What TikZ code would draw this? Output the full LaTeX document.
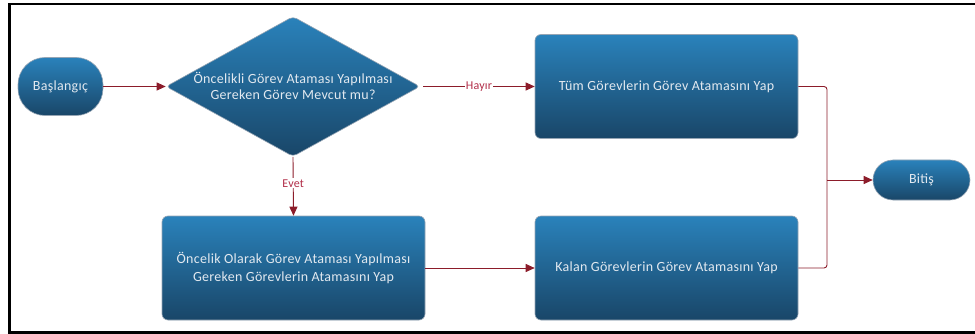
\documentclass[tikz,border=0pt]{standalone}
\usepackage{fontspec}
\setmainfont[LetterSpace=2]{Carlito}
\usetikzlibrary{arrows.meta,shapes.geometric}
\definecolor{boxtop}{RGB}{42,130,187}
\definecolor{boxbot}{RGB}{25,70,104}
\definecolor{txt}{RGB}{226,233,240}
\definecolor{arr}{RGB}{140,28,42}
\definecolor{lbl}{RGB}{178,45,72}
\definecolor{edge}{RGB}{150,165,180}
\begin{document}
\begin{tikzpicture}[x=1pt,y=-1pt,
  blk/.style={draw=edge, line width=0.6pt, top color=boxtop, bottom color=boxbot,
    text=txt, font=\fontsize{14}{18}\selectfont, align=center, inner sep=0pt},
  procbox/.style={blk, rounded corners=6pt, minimum width=263pt, minimum height=104pt},
  termbox/.style={blk, rounded corners=#1},
  conn/.style={draw=arr, line width=0.9pt, -{Triangle[length=9pt,width=8pt]}},
  line/.style={draw=arr, line width=0.9pt},
  lab/.style={text=lbl, font=\fontsize{12}{14}\selectfont, fill=white, inner sep=1pt}
]
\useasboundingbox (0,0) rectangle (975,334);
\clip (0,0) rectangle (975,334);
\draw[line width=2.6pt] (9.5,4) rectangle (990,332.5);

\node[termbox=27pt, minimum width=85pt, minimum height=58pt] (start) at (60.5,86.5) {Başlangıç};
\node[blk, shape=diamond, rounded corners=4pt, minimum width=254pt, minimum height=140pt] (dec) at (293,86.5) {};
\node[text=txt, font=\fontsize{14}{16}\selectfont, align=center] (dectext) at (293,85.5) {Öncelikli Görev Ataması Yapılması\\Gereken Görev Mevcut mu?};
\node[procbox] (tr) at (666.5,86.5) {Tüm Görevlerin Görev Atamasını Yap};
\node[procbox] (bl) at (293.5,268) {Öncelik Olarak Görev Ataması Yapılması\\Gereken Görevlerin Atamasını Yap};
\node[procbox] (br) at (666.5,268) {Kalan Görevlerin Görev Atamasını Yap};
\node[termbox=20pt, minimum width=97pt, minimum height=40pt] (end) at (921.5,180) {Bitiş};

\coordinate (j) at (827,180);
\coordinate (jt) at (827,86.5);
\coordinate (jb) at (827,268);

\draw[conn] (start.east) -- (dec.west);
\draw[conn] ([xshift=3pt]dec.east) -- node[lab] {Hayır} (tr.west);
\draw[conn] (dec.south) -- node[lab, pos=0.45] {Evet} (bl.north);
\draw[conn] (bl.east) -- (br.west);
\draw[line, rounded corners=3pt] (tr.east) -- (jt) -- (j);
\draw[line, rounded corners=3pt] (br.east) -- (jb) -- (j);
\draw[conn] (j) -- (end.west);
\end{tikzpicture}
\end{document}
